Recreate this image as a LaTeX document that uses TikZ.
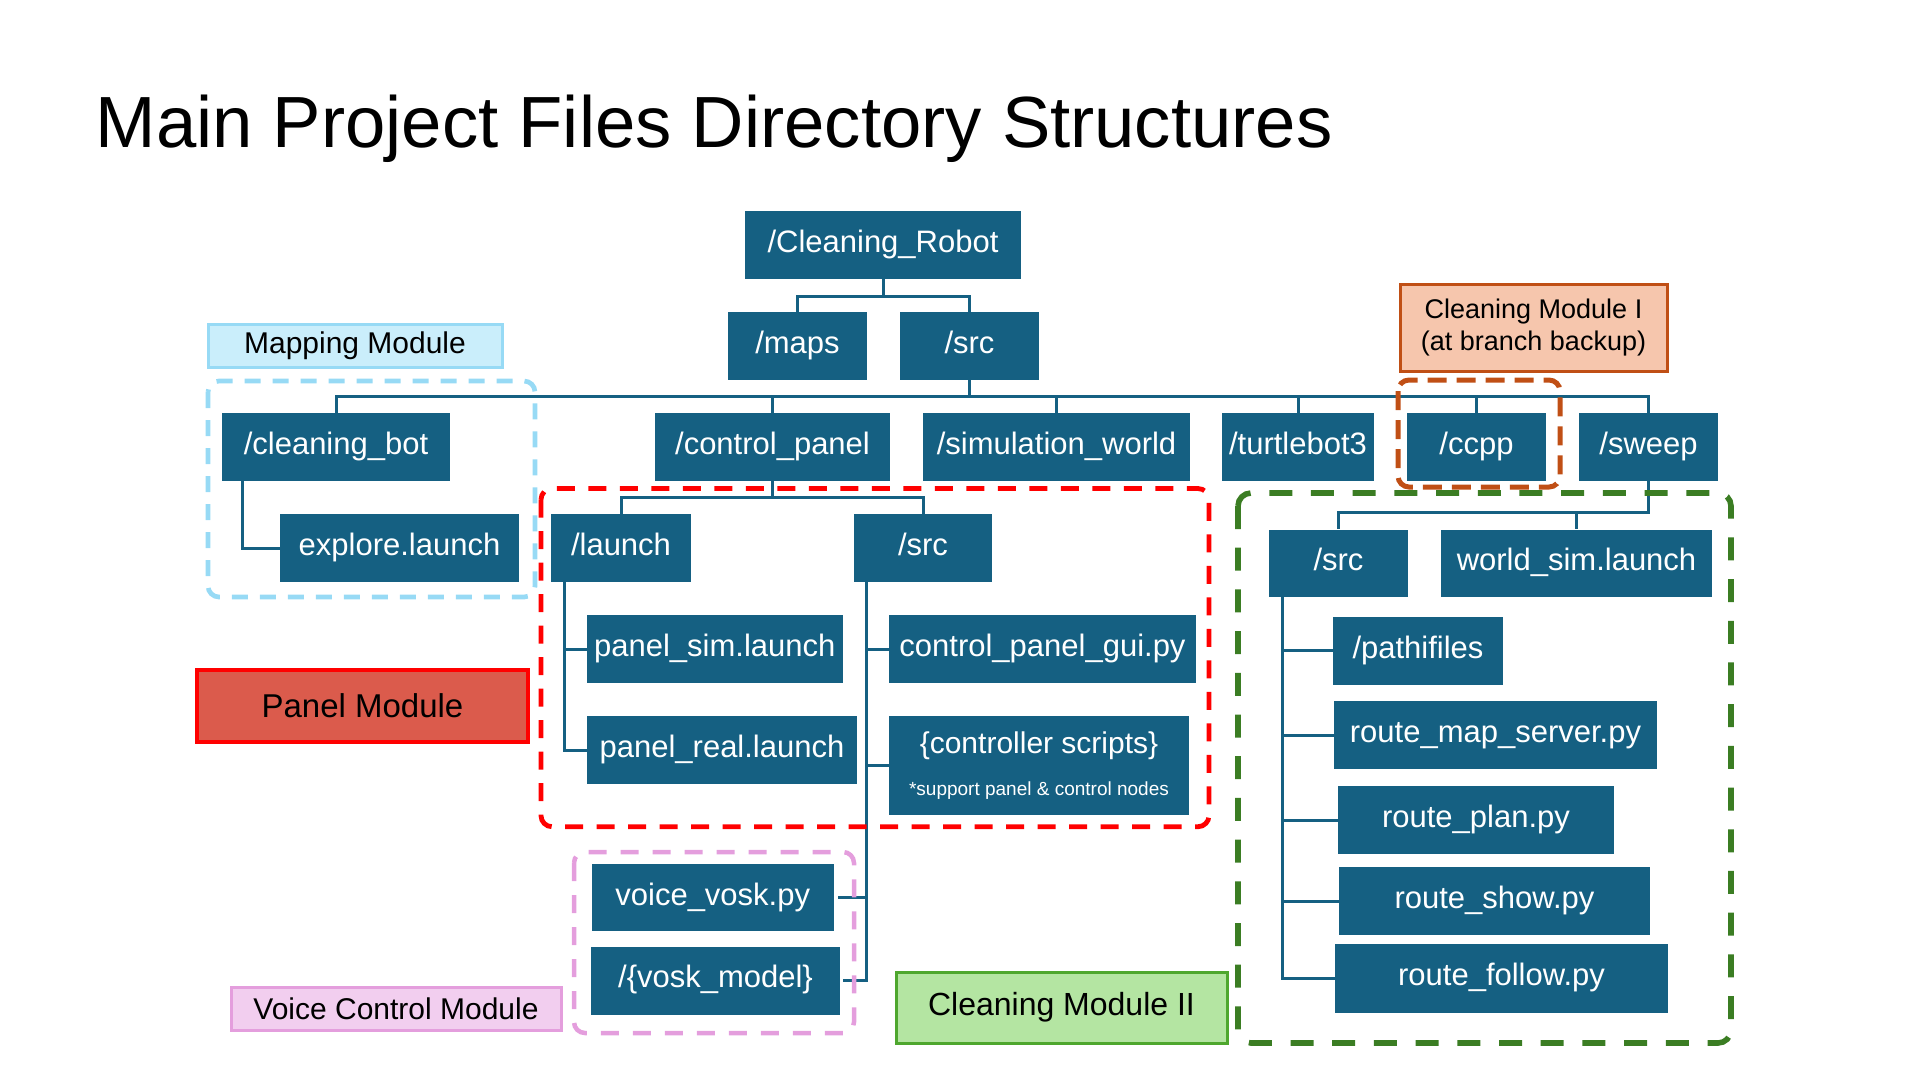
\documentclass[tikz,border=0pt]{standalone}
\usepackage{fontspec}
\setmainfont{Liberation Sans}
\usetikzlibrary{calc}
\definecolor{nodeblue}{HTML}{156082}
\definecolor{mapfill}{HTML}{CAEEFB}
\definecolor{mapline}{HTML}{97DAF5}
\definecolor{panfill}{HTML}{DB5B4C}
\definecolor{panline}{HTML}{FF0000}
\definecolor{voifill}{HTML}{F2CEEF}
\definecolor{voiline}{HTML}{E49EDD}
\definecolor{clnfill}{HTML}{B4E5A2}
\definecolor{clnline}{HTML}{4EA72E}
\definecolor{clngrp}{HTML}{3B7D23}
\definecolor{ccfill}{HTML}{F6C6AD}
\definecolor{ccline}{HTML}{C04F15}
\begin{document}
\begin{tikzpicture}[x=1pt,y=-1pt,
  fbase/.style={fill=nodeblue, text=white, inner sep=0pt,
    font=\fontsize{31}{36}\selectfont, minimum height=68pt},
  fbox/.style={fbase, text height=22.3pt, text depth=7.4pt},
  conn/.style={draw=nodeblue, line width=3pt},
  lbl/.style={inner sep=0pt, text=black, line width=3pt},
  grp/.style={rounded corners=11pt, line width=5pt, dash pattern=on 17pt off 13pt}
]
\useasboundingbox (0,0) rectangle (1920,1080);

% title
\node[anchor=base west, inner sep=0pt, font=\fontsize{72.5}{80}\selectfont] (title) at (95.5,147) {Main Project Files Directory Structures};

\coordinate (busY) at (0,396.5);
\node[fbox, minimum width=276pt] (root) at (883,245) {/Cleaning\_Robot};
\node[fbox, minimum width=139pt] (maps) at (797.5,346) {/maps};
\node[fbox, minimum width=139pt] (src) at (969.5,346) {/src};

\node[fbox, minimum width=228pt] (cbot) at (336,447) {/cleaning\_bot};
\node[fbox, minimum width=239pt] (explore) at (399.5,548) {explore.launch};
\node[fbox, minimum width=235pt] (cpanel) at (772.5,447) {/control\_panel};
\node[fbox, minimum width=267pt] (simworld) at (1056.5,447) {/simulation\_world};
\node[fbox, minimum width=152pt] (turtle) at (1298,447) {/turtlebot3};
\node[fbox, minimum width=139pt] (ccpp) at (1476.5,447) {/ccpp};
\node[fbox, minimum width=139pt] (sweep) at (1648.5,447) {/sweep};

\node[fbox, minimum width=140pt] (launch) at (621,548) {/launch};
\node[fbox, minimum width=138pt] (psrc) at (923,548) {/src};
\node[fbox, minimum width=255.5pt] (psim) at (714.75,649) {panel\_sim.launch};
\node[fbox, minimum width=270pt] (preal) at (722,750) {panel\_real.launch};
\node[fbox, minimum width=307pt] (gui) at (1042.5,649) {control\_panel\_gui.py};
\node[fbase, minimum width=300pt, minimum height=99pt, align=center] (ctrl) at (1039,765.5)
  {{\fontsize{30}{34}\selectfont \{controller scripts\}}\\[6pt]{\fontsize{19}{22}\selectfont *support panel \& control nodes}};
\node[fbox, minimum width=242.5pt, minimum height=67pt] (voice) at (712.75,897.75) {voice\_vosk.py};
\node[fbox, minimum width=249pt] (vosk) at (715.5,980.5) {/\{vosk\_model\}};

\node[fbox, minimum width=139pt, minimum height=67.5pt] (ssrc) at (1338.5,563.25) {/src};
\node[fbox, minimum width=271pt, minimum height=67.5pt] (wsim) at (1576.5,563.25) {world\_sim.launch};
\node[fbox, minimum width=170pt, minimum height=67.5pt] (pathi) at (1418,650.75) {/pathifiles};
\node[fbox, minimum width=323pt] (rms) at (1495.5,735) {route\_map\_server.py};
\node[fbox, minimum width=276pt] (rplan) at (1476,820) {route\_plan.py};
\node[fbox, minimum width=311pt] (rshow) at (1494.5,901) {route\_show.py};
\node[fbox, minimum width=333pt, minimum height=69pt] (rfollow) at (1501.5,978.5) {route\_follow.py};

% connectors
\draw[conn] (root.south) -- ++(0,17) -| (maps.north);
\draw[conn] (root.south) -- ++(0,17) -| (src.north);
\foreach \c in {cbot,cpanel,simworld,turtle,ccpp,sweep}
  \draw[conn] (src.south) |- (\c.north |- busY) -- (\c.north);
\draw[conn] ($(cbot.south west)+(21,0)$) |- (explore.west);
\draw[conn] (cpanel.south) -- ++(0,16) -| (launch.north);
\draw[conn] (cpanel.south) -- ++(0,16) -| (psrc.north);
\draw[conn] ($(launch.south west)+(14,0)$) |- (psim.west);
\draw[conn] ($(launch.south west)+(14,0)$) |- (preal.west);
\draw[conn] ($(psrc.south west)+(12.6,0)$) |- (gui.west);
\draw[conn] ($(psrc.south west)+(12.6,0)$) |- (ctrl.west);
\draw[conn] ($(psrc.south west)+(12.6,0)$) |- ($(voice.east)+(4,0)$);
\draw[conn] ($(psrc.south west)+(12.6,0)$) |- ($(vosk.east)+(3,0)$);
\draw[conn] (sweep.south) -- ++(0,31) -| (ssrc.north);
\draw[conn] (sweep.south) -- ++(0,31) -| (wsim.north);
\foreach \c in {pathi,rms,rplan,rshow,rfollow}
  \draw[conn] ($(ssrc.south west)+(13.3,0)$) |- (\c.west);

% group boxes
\draw[grp, draw=mapline, line width=4.7pt, dash pattern=on 16pt off 12pt] (208,381) rectangle (535,597);
\draw[grp, draw=panline, line width=4.8pt, dash pattern=on 18pt off 13.5pt] (541,488.5) rectangle (1209,826.7);
\draw[grp, draw=voiline, line width=4.5pt, dash pattern=on 18pt off 14pt] (574,852) rectangle (854,1033);
\draw[grp, draw=clngrp, line width=5.6pt, dash pattern=on 23pt off 18.7pt, rounded corners=13pt] (1238,493) rectangle (1731,1043);
\draw[grp, draw=ccline, line width=5pt, dash pattern=on 19pt off 10pt] (1398,380) rectangle (1560,487);

% module labels
\node[lbl, fill=mapfill, draw=mapline, minimum width=294pt, minimum height=43pt,
  font=\fontsize{30}{34}\selectfont] (mapping) at (355,345.5) {Mapping Module};
\node[lbl, fill=panfill, draw=panline, line width=3.5pt, minimum width=331pt, minimum height=72pt,
  font=\fontsize{33}{38}\selectfont] (panelmod) at (362.5,706) {Panel Module};
\node[lbl, fill=voifill, draw=voiline, minimum width=330pt, minimum height=43pt,
  font=\fontsize{30}{34}\selectfont] (voicemod) at (396,1008.5) {Voice Control Module};
\node[lbl, fill=clnfill, draw=clnline, minimum width=331pt, minimum height=71pt,
  font=\fontsize{32}{36}\selectfont] (clean2) at (1061.5,1007.5) {Cleaning Module II};
\node[lbl, fill=ccfill, draw=ccline, minimum width=267pt, minimum height=87pt, align=center,
  font=\fontsize{27}{32}\selectfont] (clean1) at (1533.5,327.5) {Cleaning Module I\\(at branch backup)};
\end{tikzpicture}
\end{document}
